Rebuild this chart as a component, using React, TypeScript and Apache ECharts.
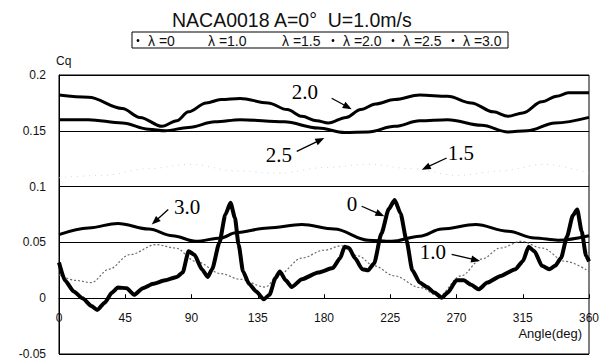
import React, { useEffect, useRef } from "react";
import * as echarts from "echarts";

// ---- data ----
const seriesNames = ["λ =0", "λ =1.0", "λ =1.5", "λ =2.0", "λ =2.5", "λ =3.0"];
const xTickValues = [0, 45, 90, 135, 180, 225, 270, 315, 360];

const angle0 = [0, 4, 10, 16, 22, 26, 31, 36, 40, 46, 51, 57, 64, 72, 80, 84, 88, 92, 97, 101, 104, 109, 113, 116.5, 119.5, 122, 125, 129, 134, 139, 143, 147, 150, 154, 158, 165, 176, 186, 191, 194, 197, 201, 206, 210, 214, 219, 224, 228, 232, 236, 240, 245, 250, 255, 260, 264, 270, 275, 280, 285, 291, 300, 310, 315, 319, 323, 328, 333, 337, 341, 345, 349, 352, 355, 358, 360];
const cq0 = [0.032, 0.016, 0.006, 0.0, -0.007, -0.0105, -0.004, 0.005, 0.0095, 0.009, 0.003, 0.009, 0.013, 0.016, 0.019, 0.023, 0.042, 0.039, 0.026, 0.019, 0.026, 0.050, 0.075, 0.0855, 0.072, 0.048, 0.024, 0.013, 0.006, -0.001, 0.003, 0.018, 0.024, 0.016, 0.010, 0.017, 0.023, 0.027, 0.036, 0.046, 0.045, 0.036, 0.026, 0.025, 0.031, 0.058, 0.080, 0.088, 0.076, 0.052, 0.025, 0.014, 0.010, 0.005, 0.0005, 0.005, 0.016, 0.016, 0.012, 0.008, 0.014, 0.020, 0.026, 0.033, 0.046, 0.042, 0.029, 0.026, 0.029, 0.036, 0.055, 0.074, 0.0795, 0.060, 0.038, 0.033];

const angle10 = [0, 11, 22, 34, 48, 66, 79, 93, 110, 123, 140, 150, 165, 180, 192, 203, 214, 228, 245, 258, 273, 287, 300, 314, 328, 344, 360];
const cq10 = [0.021, 0.016, 0.014, 0.026, 0.039, 0.048, 0.045, 0.033, 0.022, 0.017, 0.010, 0.022, 0.036, 0.043, 0.047, 0.038, 0.029, 0.020, 0.0096, 0.002, 0.020, 0.035, 0.045, 0.051, 0.045, 0.033, 0.024];

const angle15 = [0, 30, 60, 90, 120, 150, 180, 210, 240, 270, 300, 330, 360];
const cq15 = [0.108, 0.110, 0.116, 0.120, 0.114, 0.112, 0.117, 0.120, 0.116, 0.110, 0.114, 0.120, 0.112];

const angle20 = [0, 20, 43, 55, 70, 80, 88, 100, 110, 123, 142, 155, 165, 175, 183, 195, 205, 215, 228, 245, 264, 280, 295, 305, 315, 328, 338, 346, 360];
const cq20 = [0.182, 0.180, 0.170, 0.162, 0.154, 0.159, 0.167, 0.175, 0.178, 0.179, 0.175, 0.169, 0.163, 0.159, 0.157, 0.162, 0.169, 0.174, 0.178, 0.182, 0.181, 0.175, 0.167, 0.163, 0.166, 0.176, 0.181, 0.184, 0.184];

const angle25 = [0, 20, 43, 61, 72, 88, 106, 123, 153, 176, 194, 210, 228, 245, 264, 287, 305, 318, 337, 360];
const cq25 = [0.160, 0.160, 0.157, 0.1515, 0.150, 0.153, 0.158, 0.160, 0.158, 0.1525, 0.1485, 0.149, 0.154, 0.159, 0.160, 0.155, 0.149, 0.150, 0.157, 0.162];

const angle30 = [0, 20, 40, 61, 77, 93, 110, 120, 142, 165, 187, 210, 226, 245, 260, 283, 305, 323, 339, 360];
const cq30 = [0.057, 0.063, 0.067, 0.062, 0.056, 0.051, 0.054, 0.0587, 0.063, 0.066, 0.062, 0.052, 0.051, 0.0556, 0.062, 0.066, 0.060, 0.054, 0.052, 0.056];

// annotation labels with arrows, in data coordinates [angle, Cq]
const annotations = [
  { label: "2.0", at: [167, 0.1848], from: [185.2, 0.1792], to: [198.8, 0.1694] },
  { label: "2.5", at: [149.4, 0.1286], from: [161.5, 0.1315], to: [180.2, 0.1435] },
  { label: "1.5", at: [273, 0.1304], from: [263.3, 0.1256], to: [246.4, 0.1152] },
  { label: "3.0", at: [87, 0.0813], from: [74.2, 0.0795], to: [63, 0.066] },
  { label: "0", at: [199, 0.0848], from: [205.6, 0.0824], to: [221, 0.0735] },
  { label: "1.0", at: [254, 0.041], from: [266.7, 0.0393], to: [286, 0.0333] },
];

const Y_MIN = -0.05;
const Y_MAX = 0.2;

const zip = (xs: number[], ys: number[]) => xs.map((x, i) => [x, ys[i]]);

const SANS = "'Liberation Sans', Arial, sans-serif";
const SERIF = "'Liberation Serif', 'Times New Roman', serif";

export default function App() {
  const ref = useRef<HTMLDivElement>(null);
  useEffect(() => {
    if (!ref.current) return;
    const chart = echarts.init(ref.current, null, { renderer: "svg" });
    const gridTop = 75;
    const gridBottom = 9;
    const plotH = 363 - gridTop - gridBottom;
    // x axis sits on Cq = 0
    const zeroOffset = -plotH * (0 - Y_MIN) / (Y_MAX - Y_MIN);
    const seriesData = [
      zip(angle0, cq0),
      zip(angle10, cq10),
      zip(angle15, cq15),
      zip(angle20, cq20),
      zip(angle25, cq25),
      zip(angle30, cq30),
    ];
    const styles = [
      { color: "#000", width: 4, type: "solid", z: 10 },
      { color: "#6a6a6a", width: 1.2, type: [2, 2], z: 5 },
      { color: "#d4d4d4", width: 1, type: [1, 5], z: 4 },
      { color: "#000", width: 3, type: "solid", z: 6 },
      { color: "#000", width: 3, type: "solid", z: 6 },
      { color: "#000", width: 3, type: "solid", z: 6 },
    ];
    chart.setOption({
      animation: false,
      backgroundColor: "#fff",
      title: {
        text: "NACA0018 A=0°\u00a0\u00a0U=1.0m/s",
        left: 172,
        top: 10,
        padding: 0,
        textStyle: { fontSize: 19.5, lineHeight: 20, fontWeight: "normal", fontFamily: SANS, color: "#111" },
      },
      grid: { left: 59, right: 15, top: gridTop, bottom: gridBottom, show: true, borderColor: "#000", borderWidth: 1, containLabel: false, outerBoundsMode: "none" },
      xAxis: {
        type: "value",
        min: 0,
        max: 360,
        interval: 45,
        offset: zeroOffset,
        axisLine: { onZero: false, lineStyle: { color: "#000", width: 1 } },
        axisTick: { show: true, inside: true, length: 4, lineStyle: { color: "#000" } },
        axisLabel: {
          margin: 14,
          fontSize: 12,
          fontFamily: SANS,
          color: "#111",
          formatter: (v: number) => (xTickValues.includes(v) ? String(v) : ""),
        },
        splitLine: { show: false },
      },
      yAxis: {
        type: "value",
        min: Y_MIN,
        max: Y_MAX,
        interval: 0.05,
        axisLine: { show: true, onZero: false, lineStyle: { color: "#000", width: 1 } },
        axisTick: { show: false },
        axisLabel: {
          margin: 13,
          fontSize: 12,
          fontFamily: SANS,
          color: "#111",
          formatter: (v: number) => String(Math.round(v * 100) / 100),
        },
        splitLine: { show: true, lineStyle: { color: "#000", width: 1 } },
      },
      series: seriesNames.map((name, i) => ({
        name,
        type: "line",
        data: seriesData[i],
        showSymbol: false,
        symbol: "none",
        smooth: i === 0 ? 0.2 : 0.35,
        smoothMonotone: "x",
        z: styles[i].z,
        lineStyle: { color: styles[i].color, width: styles[i].width, type: styles[i].type as any },
        itemStyle: { color: styles[i].color },
      })),
    });

    const px = (p: number[]) => chart.convertToPixel({ gridIndex: 0 }, p) as number[];
    const elements: any[] = [];

    // legend box
    const legendX = [148, 208, 282, 343, 403, 463];
    const legendDot = [true, false, false, true, true, true];
    elements.push({ type: "rect", shape: { x: 132, y: 32, width: 376, height: 16 }, style: { fill: "#fff", stroke: "#000", lineWidth: 1 }, z: 100 });
    seriesNames.forEach((n, i) => {
      if (legendDot[i]) {
        elements.push({ type: "circle", shape: { cx: legendX[i] - 10, cy: 40.5, r: 1.4 }, style: { fill: "#000" }, z: 101 });
      }
      elements.push({ type: "text", x: legendX[i], y: 40.5, style: { text: n, fontSize: 14, lineHeight: 14, fontFamily: SANS, fill: "#111", align: "left", verticalAlign: "middle" }, z: 101 });
    });

    // axis captions
    elements.push({ type: "text", x: 56, y: 61, style: { text: "Cq", fontSize: 12, fontFamily: SANS, fill: "#111", align: "left", verticalAlign: "middle" }, z: 100 });
    elements.push({ type: "text", x: 582, y: 333, style: { text: "Angle(deg)", fontSize: 13, fontFamily: SANS, fill: "#111", align: "right", verticalAlign: "middle" }, z: 100 });

    // annotations
    annotations.forEach((a) => {
      const t = px(a.at);
      const s = px(a.from);
      const e = px(a.to);
      elements.push({ type: "text", x: t[0], y: t[1], style: { text: a.label, fontSize: 21, fontFamily: SERIF, fill: "#000", align: "center", verticalAlign: "middle" }, z: 100 });
      const dx = e[0] - s[0];
      const dy = e[1] - s[1];
      const len = Math.sqrt(dx * dx + dy * dy) || 1;
      const ux = dx / len;
      const uy = dy / len;
      const L = 9;
      const W = 7;
      const bx = e[0] - ux * L;
      const by = e[1] - uy * L;
      elements.push({ type: "line", shape: { x1: s[0], y1: s[1], x2: bx + ux * 2, y2: by + uy * 2 }, style: { stroke: "#000", lineWidth: 1.3 }, z: 100 });
      elements.push({
        type: "polygon",
        shape: { points: [[e[0], e[1]], [bx - uy * W / 2, by + ux * W / 2], [bx + uy * W / 2, by - ux * W / 2]] },
        style: { fill: "#000" },
        z: 100,
      });
    });

    chart.setOption({ graphic: { elements } });
    return () => chart.dispose();
  }, []);
  return (
    <div
      ref={ref}
      style={{ position: "fixed", left: 0, top: 0, width: 604, height: 363, background: "#fff" }}
    />
  );
}
